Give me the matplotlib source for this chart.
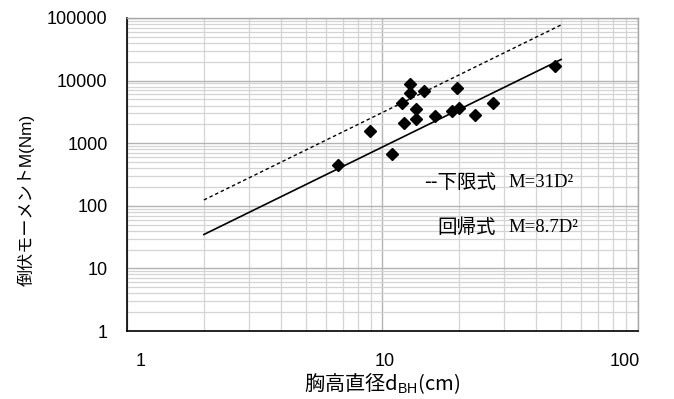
import matplotlib
matplotlib.use("Agg")
import matplotlib.pyplot as plt
from matplotlib.transforms import ScaledTranslation
import numpy as np

# 胸高直径 (cm) と 倒伏モーメント (Nm)
dbh = [6.7, 8.9, 10.9, 11.9, 12.1, 12.8, 12.8, 13.5, 13.5, 14.5,
       16.1, 18.7, 19.5, 20.0, 23.0, 27.1, 47.3]
moment = [450, 1590, 670, 4440, 2080, 8730, 6270, 3480, 2440, 6820,
          2750, 3270, 7540, 3610, 2820, 4440, 17100]

# 式の係数と描画範囲
coef_lower = 31
coef_reg = 8.7
d_range = [2, 50]

plt.rcParams['font.family'] = ['Liberation Sans', 'Noto Sans CJK JP', 'DejaVu Sans']
plt.rcParams['mathtext.fontset'] = 'custom'
plt.rcParams['mathtext.rm'] = 'Liberation Sans'

fig = plt.figure(figsize=(6.74, 3.99), dpi=100)
ax = fig.add_axes([0.1884, 0.1704, 0.7582, 0.7845])

ax.set_xscale('log')
ax.set_yscale('log')
ax.set_xlim(1, 100)
ax.set_ylim(1, 100000)

# グリッド
ax.grid(True, which='minor', color='#d4d4d4', linewidth=0.9)
ax.grid(True, which='major', color='#b3b3b3', linewidth=1.0)
ax.set_axisbelow(True)

d = np.array(d_range, dtype=float)
ax.plot(d, coef_lower * d ** 2, color='black', linestyle=(0, (2.5, 2)), linewidth=1.0)
ax.plot(d, coef_reg * d ** 2, color='black', linestyle='-', linewidth=1.2)
ax.plot(dbh, moment, linestyle='none', marker='D', markersize=6.2,
        color='black', zorder=5)

ax.set_xticks([1, 10, 100])
ax.set_xticklabels(['1', '10', '100'])
ax.set_yticks([1, 10, 100, 1000, 10000, 100000])
ax.set_yticklabels(['1', '10', '100', '1000', '10000', '100000'])
ax.tick_params(which='both', length=0, labelsize=13)
ax.tick_params(axis='y', pad=14)
ax.tick_params(axis='x', pad=16)

# Excel風に目盛ラベルを内側へずらす
shifts = [10, 1.4, -9.4]
for lab, dx in zip(ax.get_xticklabels(), shifts):
    lab.set_transform(lab.get_transform() + ScaledTranslation(dx / 72, 0, fig.dpi_scale_trans))

for s in ['left', 'bottom']:
    ax.spines[s].set_color('black')
    ax.spines[s].set_linewidth(1.2)
for s in ['top', 'right']:
    ax.spines[s].set_color('#a6a6a6')
    ax.spines[s].set_linewidth(1.0)

ax.set_xlabel('胸高直径d$_{\\mathrm{BH}}$(cm)', fontsize=14.5,
              family='Noto Sans CJK JP', labelpad=0)
ax.set_ylabel('倒伏モーメントM(Nm)', fontsize=12.3,
              family=['Liberation Sans', 'Noto Sans CJK JP'])
ax.yaxis.set_label_coords(-0.18, 0.4185)

# 凡例の文字
ax.text(0.722, 0.473, '--下限式', transform=ax.transAxes, fontsize=14,
        family=['Noto Sans CJK JP'], ha='right', va='center')
ax.text(0.746, 0.473, 'M=31D²', transform=ax.transAxes, fontsize=13.5,
        family=['Liberation Serif'], ha='left', va='center')
ax.text(0.722, 0.332, '回帰式', transform=ax.transAxes, fontsize=14,
        family=['Noto Sans CJK JP'], ha='right', va='center')
ax.text(0.746, 0.332, 'M=8.7D²', transform=ax.transAxes, fontsize=13.5,
        family=['Liberation Serif'], ha='left', va='center')

fig.savefig('out.png', dpi=100)
